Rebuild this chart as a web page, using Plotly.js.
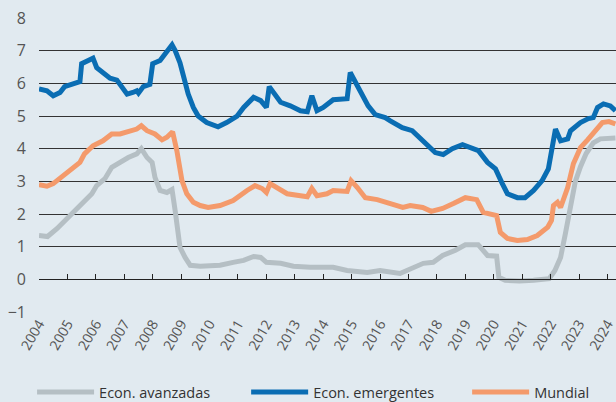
<!DOCTYPE html>
<html>
<head>
<meta charset="utf-8">
<script src="https://cdn.plot.ly/plotly-3.0.1.min.js"></script>
<style>html,body{margin:0;padding:0;background:#e1eaf0;}#chart{width:616px;height:402px;}</style>
</head>
<body>
<div id="chart"></div>
<script>
const seriesNames = ["Econ. avanzadas", "Econ. emergentes", "Mundial"];
const yearTicks = [2004,2005,2006,2007,2008,2009,2010,2011,2012,2013,2014,2015,2016,2017,2018,2019,2020,2021,2022,2023,2024];

const advX = [2004.0,2004.3,2004.63,2004.98,2005.27,2005.55,2005.86,2006.03,2006.32,2006.56,2006.85,2007.14,2007.44,2007.6,2007.8,2007.98,2008.08,2008.26,2008.5,2008.68,2008.79,2008.96,2009.14,2009.32,2009.67,2010.0,2010.37,2010.83,2011.2,2011.55,2011.8,2012.0,2012.5,2012.95,2013.54,2014.35,2014.84,2015.55,2016.0,2016.7,2017.17,2017.52,2017.87,2018.2,2018.65,2019.0,2019.45,2019.78,2020.1,2020.18,2020.4,2020.9,2021.4,2021.95,2022.15,2022.35,2022.52,2022.7,2022.87,2023.05,2023.25,2023.5,2023.75,2024.28];
const advY = [1.34,1.31,1.55,1.86,2.1,2.36,2.62,2.87,3.08,3.43,3.58,3.73,3.84,4.0,3.73,3.58,3.12,2.72,2.66,2.75,2.1,0.98,0.67,0.43,0.4,0.43,0.43,0.52,0.58,0.7,0.67,0.52,0.49,0.4,0.37,0.37,0.27,0.21,0.27,0.18,0.37,0.49,0.52,0.73,0.89,1.06,1.06,0.73,0.71,0.06,-0.03,-0.05,-0.03,0.02,0.27,0.67,1.4,2.2,3.0,3.45,3.85,4.18,4.3,4.33];

const emgX = [2004.0,2004.28,2004.5,2004.74,2004.9,2005.15,2005.44,2005.5,2005.7,2005.9,2006.03,2006.25,2006.5,2006.74,2006.96,2007.1,2007.3,2007.44,2007.5,2007.67,2007.9,2008.0,2008.26,2008.44,2008.68,2008.79,2008.96,2009.1,2009.25,2009.43,2009.6,2009.9,2010.3,2010.6,2010.97,2011.2,2011.55,2011.8,2012.0,2012.1,2012.25,2012.5,2012.84,2013.2,2013.44,2013.6,2013.78,2014.0,2014.35,2014.84,2014.95,2015.1,2015.3,2015.58,2015.83,2016.18,2016.36,2016.78,2017.13,2017.5,2017.7,2017.94,2018.22,2018.54,2018.9,2019.25,2019.46,2019.78,2020.06,2020.3,2020.48,2020.83,2021.1,2021.4,2021.7,2021.92,2022.03,2022.17,2022.35,2022.6,2022.7,2023.05,2023.33,2023.5,2023.65,2023.86,2024.1,2024.28];
const emgY = [5.83,5.77,5.62,5.72,5.9,5.97,6.05,6.6,6.7,6.77,6.48,6.33,6.16,6.1,5.83,5.67,5.72,5.77,5.7,5.9,5.97,6.6,6.7,6.9,7.18,7.0,6.63,6.17,5.67,5.26,5.0,4.8,4.67,4.8,5.0,5.26,5.57,5.47,5.26,5.9,5.72,5.42,5.31,5.16,5.13,5.62,5.16,5.26,5.5,5.53,6.33,6.08,5.77,5.31,5.04,4.95,4.85,4.64,4.55,4.24,4.03,3.88,3.82,4.0,4.12,4.0,3.94,3.58,3.38,2.93,2.62,2.5,2.5,2.72,3.02,3.38,4.03,4.6,4.24,4.3,4.55,4.8,4.92,4.95,5.26,5.37,5.31,5.16];

const wldX = [2004.0,2004.28,2004.5,2004.85,2005.1,2005.44,2005.6,2005.9,2006.25,2006.56,2006.85,2007.2,2007.44,2007.6,2007.8,2008.08,2008.33,2008.5,2008.7,2008.85,2009.03,2009.2,2009.43,2009.67,2009.95,2010.37,2010.83,2011.32,2011.6,2011.85,2012.0,2012.13,2012.41,2012.73,2013.2,2013.44,2013.6,2013.78,2014.13,2014.35,2014.84,2014.98,2015.2,2015.48,2015.9,2016.25,2016.8,2017.06,2017.5,2017.8,2018.2,2018.58,2019.0,2019.4,2019.63,2020.1,2020.23,2020.48,2020.83,2021.18,2021.53,2021.9,2022.03,2022.1,2022.24,2022.35,2022.6,2022.8,2023.05,2023.3,2023.58,2023.82,2024.05,2024.28];
const wldY = [2.9,2.85,2.93,3.18,3.38,3.58,3.84,4.09,4.24,4.45,4.45,4.55,4.6,4.7,4.55,4.45,4.27,4.35,4.52,3.94,3.02,2.62,2.36,2.26,2.2,2.26,2.41,2.72,2.87,2.78,2.66,2.93,2.78,2.62,2.56,2.53,2.78,2.56,2.62,2.72,2.69,3.02,2.81,2.5,2.44,2.36,2.2,2.26,2.2,2.08,2.17,2.32,2.5,2.44,2.05,1.95,1.44,1.25,1.19,1.22,1.34,1.6,1.8,2.26,2.36,2.2,2.81,3.54,4.03,4.27,4.55,4.8,4.83,4.76];

const colors = ["#b5bfc4", "#0a6db3", "#f49a6b"];
const legendIds = ['legend', 'legend2', 'legend3'];

const traces = [
  {x: advX, y: advY},
  {x: emgX, y: emgY},
  {x: wldX, y: wldY}
].map((s, i) => ({
  type: 'scatter', mode: 'lines', x: s.x, y: s.y, name: seriesNames[i], legend: legendIds[i],
  line: {color: colors[i], width: 5, shape: 'linear'}
}));

// invisible trace carrying the zero-line axis with its ticks
traces.push({type:'scatter', mode:'lines', x:[2004,2024.3], y:[0,0], xaxis:'x2', yaxis:'y',
  line:{color:'rgba(0,0,0,0)', width:0}, showlegend:false, hoverinfo:'skip'});

const font = 'Open Sans, Noto Sans, sans-serif';
const legendBase = {orientation: 'h', xanchor: 'left', yref: 'container', y: 0.025, yanchor: 'middle',
  font: {family: font, size: 14.5, color: '#333333'}, itemwidth: 57, bgcolor: 'rgba(0,0,0,0)'};
const layout = {
  width: 616, height: 402,
  paper_bgcolor: '#e1eaf0', plot_bgcolor: '#e1eaf0',
  margin: {l: 39, r: 0, t: 18, b: 90, autoexpand: false},
  font: {family: font, color: '#555555', size: 14},
  showlegend: true,
  legend: Object.assign({}, legendBase, {x: -0.012}),
  legend2: Object.assign({}, legendBase, {x: 0.359}),
  legend3: Object.assign({}, legendBase, {x: 0.742}),
  xaxis: {range: [2004, 2024.3], tickvals: yearTicks, ticktext: yearTicks.map(String),
    tickangle: -60, showgrid: false, zeroline: false, showline: false, ticks: '',
    automargin: false, ticklabeloverflow: 'allow',
    tickfont: {size: 14, color: '#555555', family: font}},
  xaxis2: {overlaying: 'x', anchor: 'free', position: 1/9, range: [2004, 2024.3],
    tickvals: yearTicks, showticklabels: false, ticks: 'inside', ticklen: 5, tickcolor: '#222222', tickwidth: 1,
    showline: true, linecolor: '#222222', linewidth: 1, showgrid: false, zeroline: false, automargin: false},
  yaxis: {range: [-1, 8], dtick: 1, tick0: 0, showgrid: true, gridcolor: '#333333', gridwidth: 1,
    zeroline: false, showline: false, ticks: '', ticklabelstandoff: 12, automargin: false,
    tickfont: {size: 16, color: '#555555', family: font}}
};

Plotly.newPlot('chart', traces, layout, {staticPlot: true});
</script>
</body>
</html>
